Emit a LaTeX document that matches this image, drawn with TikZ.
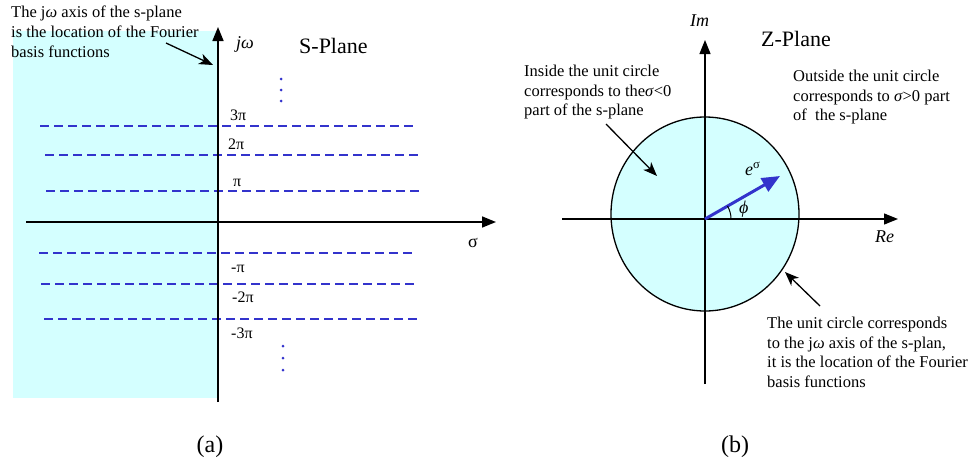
\documentclass[tikz,border=0pt]{standalone}
\usepackage{fontspec}
\setmainfont{Liberation Serif}
\usetikzlibrary{arrows.meta}
\definecolor{cyanfill}{RGB}{212,255,255}
\definecolor{dblue}{RGB}{51,51,204}
\begin{document}
\begin{tikzpicture}[x=1pt,y=-1pt,
  txt/.style={font=\fontsize{16.5}{19.6}\selectfont, inner sep=0pt, align=left, anchor=north west},
  lbl/.style={inner sep=0pt, anchor=base west, font=\fontsize{16}{19}\selectfont},
  big/.style={inner sep=0pt, anchor=base west, font=\fontsize{22}{26}\selectfont},
  axlbl/.style={inner sep=0pt, anchor=base west, font=\fontsize{18}{22}\selectfont\itshape},
  axis/.style={line width=1.6pt, -{Triangle[length=14pt,width=11pt]}},
  thinaxis/.style={line width=1.2pt, -{Triangle[length=14pt,width=11pt]}},
  note/.style={line width=1.3pt, -{Stealth[length=14pt,width=11pt,inset=4pt]}},
  hline/.style={dblue, line width=1.9pt, dash pattern=on 9pt off 5pt},
  vdot/.style={circle, fill=dblue, inner sep=0pt, minimum size=3pt}
]
\useasboundingbox (0,0) rectangle (969,469);

% ---------- (a) S-plane ----------
\fill[cyanfill] (13,31) rectangle (218,398);

\draw[hline] (40,126) -- (417,126);
\draw[hline] (45,155) -- (420,155);
\draw[hline] (46,191) -- (421,191);
\draw[hline] (39,253) -- (414,253);
\draw[hline] (41,284) -- (416,284);
\draw[hline] (44,319) -- (419,319);

\coordinate (sx0) at (26,222);
\coordinate (sx1) at (496,222);
\coordinate (sy0) at (218,402);
\coordinate (sy1) at (218,27);
\draw[axis] (sx0) -- (sx1);
\draw[axis] (sy0) -- (sy1);

\node[axlbl] (jw) at (236,48) {jω};
\node[big] (splane) at (299,53) {S-Plane};
\node[lbl, font=\fontsize{18}{22}\selectfont] (sig) at (468,247) {σ};

\node[lbl] (p3) at (230,120) {3π};
\node[lbl] (p2) at (228,149) {2π};
\node[lbl] (p1) at (233,186) {π};
\node[lbl] (m1) at (231,272) {-π};
\node[lbl] (m2) at (232,302) {-2π};
\node[lbl] (m3) at (231,338) {-3π};

\node[vdot] (d1) at (281,79) {};
\node[vdot] (d2) at (281,90) {};
\node[vdot] (d3) at (281,101) {};
\node[vdot] (d4) at (283,346) {};
\node[vdot] (d5) at (283,358) {};
\node[vdot] (d6) at (283,370) {};

\node[txt] (notea) at (11,6) {The j\textit{ω} axis of the s-plane\\is the location of the Fourier\\basis functions};
\coordinate (na0) at (166,43);
\coordinate (na1) at (213,65);
\draw[note] (na0) -- (na1);

\node[big, anchor=center, font=\fontsize{24}{28}\selectfont] (capa) at (210,447) {(a)};

% ---------- (b) Z-plane ----------
\filldraw[fill=cyanfill, draw=black, line width=1.3pt] (705,214) ellipse [x radius=94, y radius=97];

\coordinate (zx0) at (562,219);
\coordinate (zx1) at (898,219);
\coordinate (zy0) at (705,384);
\coordinate (zy1) at (705,40);
\draw[thinaxis] (zx0) -- (zx1);
\draw[thinaxis] (zy0) -- (zy1);

\coordinate (o) at (705,219);
\coordinate (vt) at (780,176);
\draw[dblue, line width=3pt, -{Triangle[length=18pt,width=15pt]}] (o) -- (vt);
\draw[line width=1pt] (731,219) arc[start angle=0, end angle=-30, radius=26];

\node[axlbl] (im) at (690,26) {Im};
\node[axlbl] (re) at (875,242) {Re};
\node[big] (zplane) at (761,46) {Z-Plane};
\node[axlbl] (phi) at (739,213) {ϕ};
\node[axlbl] (esig) at (745,175) {e\textsuperscript{\upshape σ}};

\node[txt] (inside) at (524,65) {Inside the unit circle\\corresponds to the\textit{σ}<0\\part of the s-plane};
\node[txt] (outside) at (793,70) {Outside the unit circle\\corresponds to \textit{σ}>0 part\\of~ the s-plane};
\node[txt] (unit) at (767,317) {The unit circle corresponds\\to the j\textit{ω} axis of the s-plan,\\it is the location of the Fourier\\basis functions};

\coordinate (ni0) at (606,124);
\coordinate (ni1) at (657,176);
\draw[note] (ni0) -- (ni1);
\coordinate (nu0) at (820,306);
\coordinate (nu1) at (785,272);
\draw[note] (nu0) -- (nu1);

\node[big, anchor=center, font=\fontsize{24}{28}\selectfont] (capb) at (735,447) {(b)};
\end{tikzpicture}
\end{document}
